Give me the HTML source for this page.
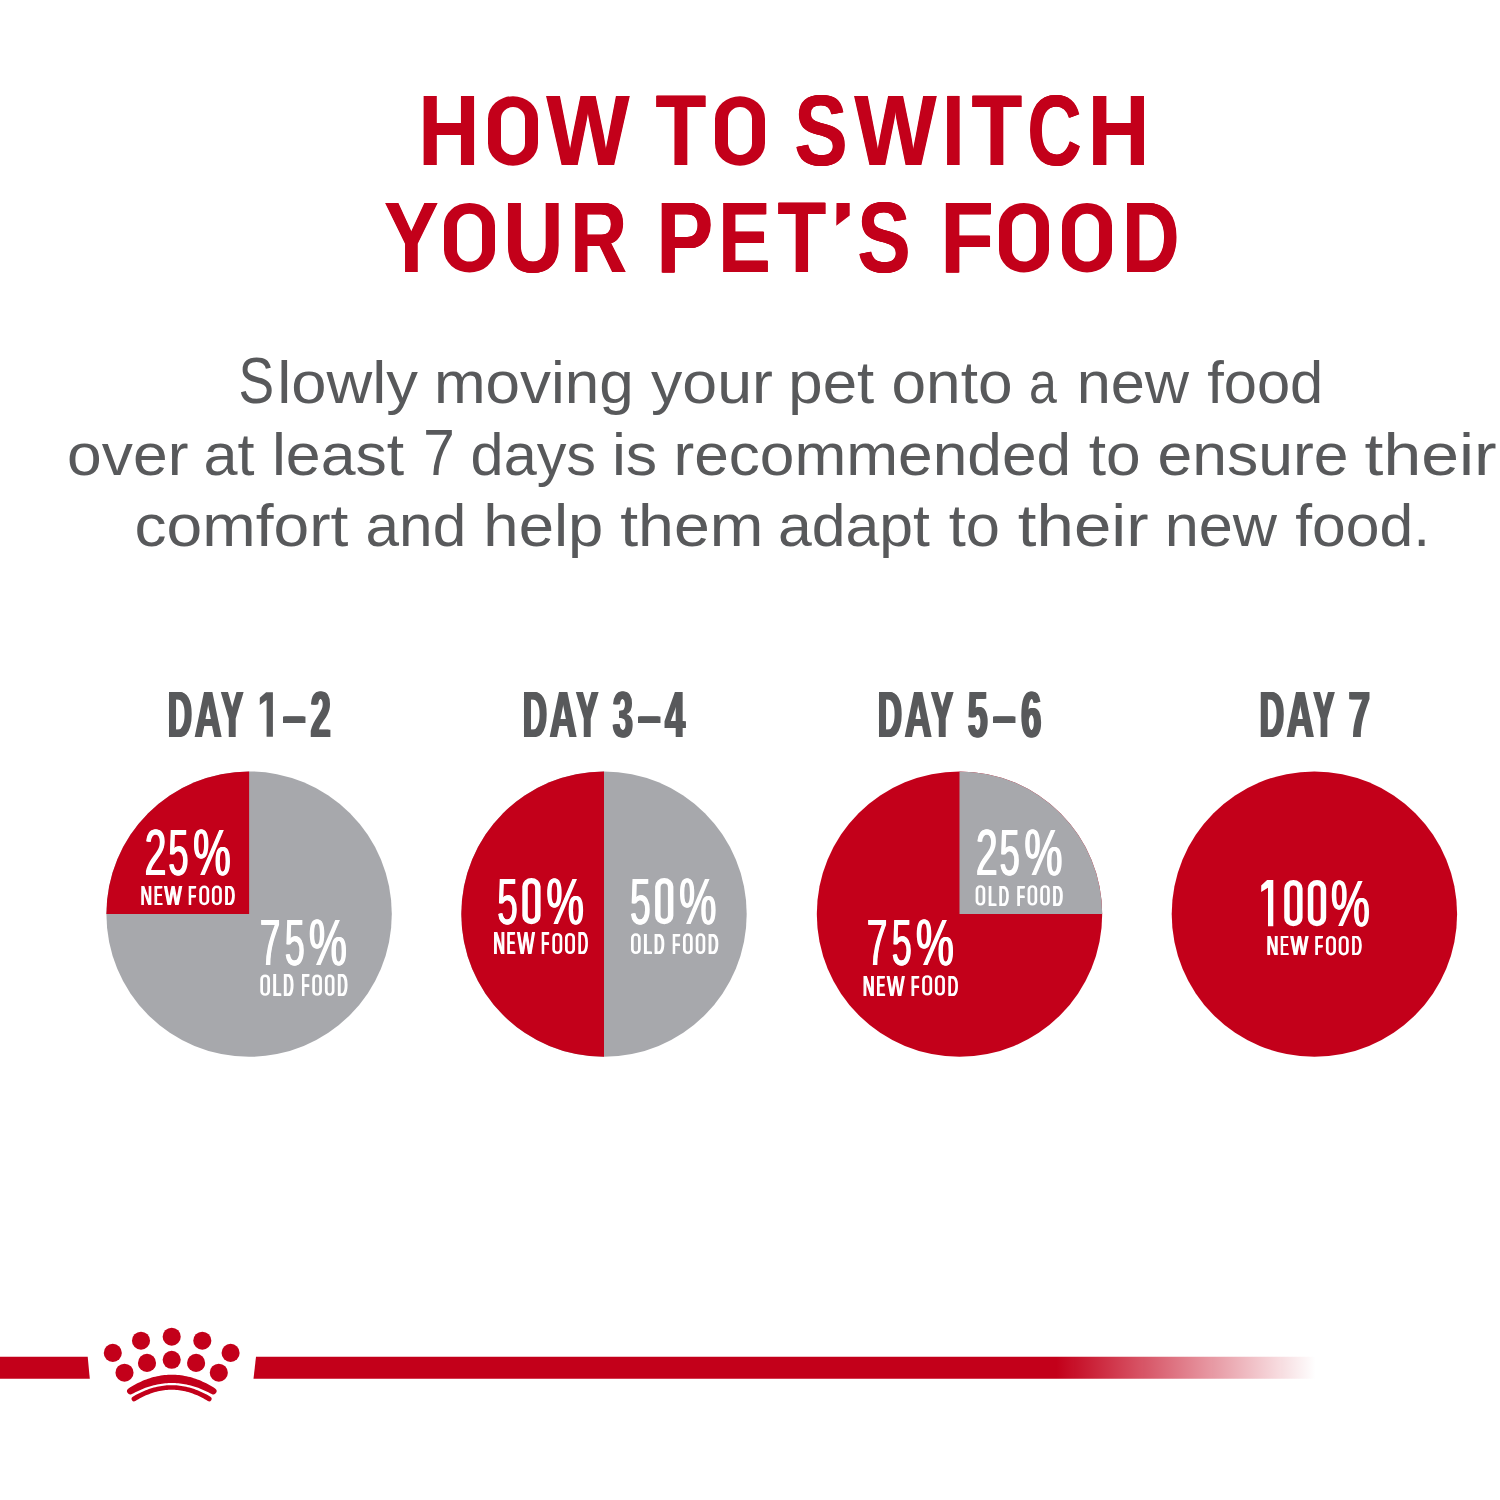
<!DOCTYPE html>
<html><head><meta charset="utf-8"><style>
html,body{margin:0;padding:0;background:#fff;width:1500px;height:1500px;overflow:hidden}
svg{display:block;font-family:"Liberation Sans",sans-serif}
</style></head><body>
<svg width="1500" height="1500" viewBox="0 0 1500 1500">
<defs><linearGradient id="fade" x1="0" x2="1500" y1="0" y2="0" gradientUnits="userSpaceOnUse">
<stop offset="0.7045" stop-color="#c3001a" stop-opacity="1"/>
<stop offset="0.877" stop-color="#c3001a" stop-opacity="0"/>
</linearGradient><filter id="ga" x="-2%" y="-10%" width="104%" height="120%"><feOffset dx="0" dy="0"/></filter></defs>
<rect width="1500" height="1500" fill="#fff"/>
<circle cx="249.1" cy="914.1" r="142.7" fill="#a7a8ac"/>
<path d="M249.1 914.1 L106.4 914.1 A142.7 142.7 0 0 1 249.1 771.4000000000001 Z" fill="#c3001a"/>
<circle cx="604.0" cy="914.1" r="142.7" fill="#a7a8ac"/>
<path d="M604.0 771.4000000000001 A142.7 142.7 0 0 0 604.0 1056.8 Z" fill="#c3001a"/>
<circle cx="959.5" cy="914.1" r="142.7" fill="#c3001a"/>
<path d="M959.5 914.1 L959.5 771.4000000000001 A142.7 142.7 0 0 1 1102.2 914.1 Z" fill="#a7a8ac"/>
<circle cx="1314.4" cy="914.1" r="142.7" fill="#c3001a"/>
<g fill="#58595b" filter="url(#ga)"><text x="238.59" y="402.8" font-size="64.5" fill="#58595b" textLength="35.65" lengthAdjust="spacingAndGlyphs">S</text>
<text x="277.28" y="402.8" font-size="60" fill="#58595b" textLength="140.72" lengthAdjust="spacingAndGlyphs">lowly</text>
<text x="433.97" y="402.8" font-size="60" fill="#58595b" textLength="199.82" lengthAdjust="spacingAndGlyphs">moving</text>
<text x="651" y="402.8" font-size="60" fill="#58595b" textLength="121.81" lengthAdjust="spacingAndGlyphs">your</text>
<text x="788.29" y="402.8" font-size="60" fill="#58595b" textLength="85.88" lengthAdjust="spacingAndGlyphs">pet</text>
<text x="891.51" y="402.8" font-size="60" fill="#58595b" textLength="121.05" lengthAdjust="spacingAndGlyphs">onto</text>
<text x="1029" y="402.8" font-size="60" fill="#58595b" textLength="27.81" lengthAdjust="spacingAndGlyphs">a</text>
<text x="1076.72" y="402.8" font-size="60" fill="#58595b" textLength="112.41" lengthAdjust="spacingAndGlyphs">new</text>
<text x="1207.2" y="402.8" font-size="60" fill="#58595b" textLength="116.04" lengthAdjust="spacingAndGlyphs">food</text>
<text x="67.11" y="474.8" font-size="60" fill="#58595b" textLength="121.31" lengthAdjust="spacingAndGlyphs">over</text>
<text x="203.55" y="474.8" font-size="60" fill="#58595b" textLength="51.02" lengthAdjust="spacingAndGlyphs">at</text>
<text x="271.93" y="474.8" font-size="60" fill="#58595b" textLength="132.25" lengthAdjust="spacingAndGlyphs">least</text>
<text x="423.17" y="474.8" font-size="64" fill="#58595b" textLength="31.43" lengthAdjust="spacingAndGlyphs">7</text>
<text x="470.62" y="474.8" font-size="60" fill="#58595b" textLength="125.45" lengthAdjust="spacingAndGlyphs">days</text>
<text x="611.93" y="474.8" font-size="60" fill="#58595b" textLength="45.27" lengthAdjust="spacingAndGlyphs">is</text>
<text x="673.46" y="474.8" font-size="60" fill="#58595b" textLength="397.65" lengthAdjust="spacingAndGlyphs">recommended</text>
<text x="1088.67" y="474.8" font-size="60" fill="#58595b" textLength="51.89" lengthAdjust="spacingAndGlyphs">to</text>
<text x="1157.5" y="474.8" font-size="60" fill="#58595b" textLength="191.07" lengthAdjust="spacingAndGlyphs">ensure</text>
<text x="1364.58" y="474.8" font-size="60" fill="#58595b" textLength="132" lengthAdjust="spacingAndGlyphs">their</text>
<text x="134.43" y="545.8" font-size="60" fill="#58595b" textLength="213.95" lengthAdjust="spacingAndGlyphs">comfort</text>
<text x="365.59" y="545.8" font-size="60" fill="#58595b" textLength="100.6" lengthAdjust="spacingAndGlyphs">and</text>
<text x="483.38" y="545.8" font-size="60" fill="#58595b" textLength="119.93" lengthAdjust="spacingAndGlyphs">help</text>
<text x="620.23" y="545.8" font-size="60" fill="#58595b" textLength="143.12" lengthAdjust="spacingAndGlyphs">them</text>
<text x="778.07" y="545.8" font-size="60" fill="#58595b" textLength="151.9" lengthAdjust="spacingAndGlyphs">adapt</text>
<text x="948.78" y="545.8" font-size="60" fill="#58595b" textLength="51.25" lengthAdjust="spacingAndGlyphs">to</text>
<text x="1017.89" y="545.8" font-size="60" fill="#58595b" textLength="130.68" lengthAdjust="spacingAndGlyphs">their</text>
<text x="1164.72" y="545.8" font-size="60" fill="#58595b" textLength="112.31" lengthAdjust="spacingAndGlyphs">new</text>
<text x="1295.19" y="545.8" font-size="60" fill="#58595b" textLength="134.83" lengthAdjust="spacingAndGlyphs">food.</text></g>
<g font-size="99.85" font-weight="bold" fill="#c3001a" filter="url(#ga)"><g id="r1"><text transform="translate(418.44 165.3) scale(0.8419 1)">H</text><text transform="translate(546.5 165.3) scale(0.8796 1)">W</text><text transform="translate(655.68 165.3) scale(0.8248 1)">T</text><text transform="translate(794.52 165.3) scale(0.7946 1)">S</text><text transform="translate(854.5 165.3) scale(0.8690 1)">W</text><text transform="translate(942.3 165.3) scale(0.8012 1)">I</text><text transform="translate(971.68 165.3) scale(0.8248 1)">T</text><text transform="translate(1027.51 165.3) scale(0.7492 1)">C</text><text transform="translate(1087.99 165.3) scale(0.8487 1)">H</text></g><use href="#r1" x="-0.5"/><use href="#r1" x="0.5"/></g>
<g font-size="99.85" font-weight="bold" fill="#c3001a" filter="url(#ga)"><g id="r2"><text transform="translate(384.28 272) scale(0.8137 1)">Y</text><text transform="translate(503.54 272) scale(0.8277 1)">U</text><text transform="translate(570.42 272) scale(0.7824 1)">R</text><text transform="translate(656.58 272) scale(0.8504 1)">P</text><text transform="translate(718.44 272) scale(0.7799 1)">E</text><text transform="translate(777.71 272) scale(0.7911 1)">T</text><text transform="translate(857.52 272) scale(0.7946 1)">S</text><text transform="translate(940.44 272) scale(0.8719 1)">F</text><text transform="translate(1122.36 272) scale(0.7915 1)">D</text></g><use href="#r2" x="-0.5"/><use href="#r2" x="0.5"/></g>
<g font-size="64.8" font-weight="bold" fill="#58595b" filter="url(#ga)"><g id="r3"><text transform="translate(167.93 736.8) scale(0.5152 1)">D</text><text transform="translate(194.76 736.8) scale(0.5742 1)">A</text><text transform="translate(221.41 736.8) scale(0.5015 1)">Y</text><text transform="translate(282.78 736.8) scale(0.6296 1)">–</text><text transform="translate(310.62 736.8) scale(0.5574 1)">2</text></g><use href="#r3" x="-1.1"/><use href="#r3" x="1.1"/></g>
<g font-size="64.8" font-weight="bold" fill="#58595b" filter="url(#ga)"><g id="r4"><text transform="translate(522.93 736.9) scale(0.5152 1)">D</text><text transform="translate(549.76 736.9) scale(0.5742 1)">A</text><text transform="translate(576.41 736.9) scale(0.5015 1)">Y</text><text transform="translate(612.77 736.9) scale(0.5617 1)">3</text><text transform="translate(637.78 736.9) scale(0.6296 1)">–</text><text transform="translate(665.06 736.9) scale(0.5516 1)">4</text></g><use href="#r4" x="-1.1"/><use href="#r4" x="1.1"/></g>
<g font-size="64.8" font-weight="bold" fill="#58595b" filter="url(#ga)"><g id="r5"><text transform="translate(877.93 736.9) scale(0.5152 1)">D</text><text transform="translate(904.76 736.9) scale(0.5742 1)">A</text><text transform="translate(931.41 736.9) scale(0.5015 1)">Y</text><text transform="translate(967.94 736.9) scale(0.5463 1)">5</text><text transform="translate(992.78 736.9) scale(0.6296 1)">–</text><text transform="translate(1021.03 736.9) scale(0.5600 1)">6</text></g><use href="#r5" x="-1.1"/><use href="#r5" x="1.1"/></g>
<g font-size="64.8" font-weight="bold" fill="#58595b" filter="url(#ga)"><g id="r6"><text transform="translate(1259.7 736.8) scale(0.5227 1)">D</text><text transform="translate(1286.86 736.8) scale(0.5742 1)">A</text><text transform="translate(1313.64 736.8) scale(0.4774 1)">Y</text><text transform="translate(1348.56 736.8) scale(0.5945 1)">7</text></g><use href="#r6" x="-1.1"/><use href="#r6" x="1.1"/></g>
<g font-size="64.23" font-weight="normal" fill="#ffffff" filter="url(#ga)"><g id="r7"><text transform="translate(144.64 874.96) scale(0.6093 1)">2</text><text transform="translate(168.35 874.96) scale(0.5638 1)">5</text><text transform="translate(193.11 874.96) scale(0.6608 1)">%</text></g><use href="#r7" x="-0.6"/><use href="#r7" x="0.6"/></g>
<g font-size="63.94" font-weight="normal" fill="#ffffff" filter="url(#ga)"><g id="r8"><text transform="translate(259.74 965.06) scale(0.5814 1)">7</text><text transform="translate(284.76 965.06) scale(0.5630 1)">5</text><text transform="translate(308.9 965.06) scale(0.6694 1)">%</text></g><use href="#r8" x="-0.6"/><use href="#r8" x="0.6"/></g>
<g font-size="65.07" font-weight="normal" fill="#ffffff" filter="url(#ga)"><g id="r9"><text transform="translate(497.23 923.65) scale(0.5662 1)">5</text><text transform="translate(546.32 923.65) scale(0.6503 1)">%</text></g><use href="#r9" x="-0.6"/><use href="#r9" x="0.6"/></g>
<g font-size="65.07" font-weight="normal" fill="#ffffff" filter="url(#ga)"><g id="r10"><text transform="translate(630.03 923.65) scale(0.5662 1)">5</text><text transform="translate(679.13 923.65) scale(0.6447 1)">%</text></g><use href="#r10" x="-0.6"/><use href="#r10" x="0.6"/></g>
<g font-size="64.23" font-weight="normal" fill="#ffffff" filter="url(#ga)"><g id="r11"><text transform="translate(975.84 874.96) scale(0.6093 1)">2</text><text transform="translate(999.55 874.96) scale(0.5638 1)">5</text><text transform="translate(1024.3 874.96) scale(0.6684 1)">%</text></g><use href="#r11" x="-0.6"/><use href="#r11" x="0.6"/></g>
<g font-size="64.23" font-weight="normal" fill="#ffffff" filter="url(#ga)"><g id="r12"><text transform="translate(866.74 965.36) scale(0.5788 1)">7</text><text transform="translate(891.76 965.36) scale(0.5605 1)">5</text><text transform="translate(915.9 965.36) scale(0.6665 1)">%</text></g><use href="#r12" x="-0.6"/><use href="#r12" x="0.6"/></g>
<g font-size="65.21" font-weight="normal" fill="#ffffff" filter="url(#ga)"><g id="r13"><text transform="translate(1330.86 925.65) scale(0.6732 1)">%</text></g><use href="#r13" x="-0.6"/><use href="#r13" x="0.6"/></g>
<g font-size="28.49" font-weight="normal" fill="#ffffff" filter="url(#ga)"><g id="r14"><text transform="translate(140.65 905.2) scale(0.5502 1)">N</text><text transform="translate(154.18 905.2) scale(0.4229 1)">E</text><text transform="translate(164.5 905.2) scale(0.6360 1)">W</text><text transform="translate(188.4 905.2) scale(0.4374 1)">F</text><text transform="translate(224.73 905.2) scale(0.4872 1)">D</text></g><use href="#r14" x="-0.7"/><use href="#r14" x="0.7"/></g>
<g font-size="30.96" font-weight="normal" fill="#ffffff" filter="url(#ga)"><g id="r15"><text transform="translate(272.8 995.8) scale(0.4784 1)">L</text><text transform="translate(283.57 995.8) scale(0.4446 1)">D</text><text transform="translate(301.65 995.8) scale(0.4040 1)">F</text><text transform="translate(337.51 995.8) scale(0.4446 1)">D</text></g><use href="#r15" x="-0.7"/><use href="#r15" x="0.7"/></g>
<g font-size="30.52" font-weight="normal" fill="#ffffff" filter="url(#ga)"><g id="r16"><text transform="translate(493.44 954) scale(0.5161 1)">N</text><text transform="translate(507.03 954) scale(0.3967 1)">E</text><text transform="translate(517.4 954) scale(0.5963 1)">W</text><text transform="translate(541.4 954) scale(0.4104 1)">F</text><text transform="translate(577.88 954) scale(0.4570 1)">D</text></g><use href="#r16" x="-0.7"/><use href="#r16" x="0.7"/></g>
<g font-size="30.09" font-weight="normal" fill="#ffffff" filter="url(#ga)"><g id="r17"><text transform="translate(643.51 954) scale(0.4929 1)">L</text><text transform="translate(654.3 954) scale(0.4581 1)">D</text><text transform="translate(672.4 954) scale(0.4163 1)">F</text><text transform="translate(708.3 954) scale(0.4581 1)">D</text></g><use href="#r17" x="-0.7"/><use href="#r17" x="0.7"/></g>
<g font-size="29.65" font-weight="normal" fill="#ffffff" filter="url(#ga)"><g id="r18"><text transform="translate(988.1 905.6) scale(0.4995 1)">L</text><text transform="translate(998.87 905.6) scale(0.4642 1)">D</text><text transform="translate(1016.95 905.6) scale(0.4218 1)">F</text><text transform="translate(1052.81 905.6) scale(0.4642 1)">D</text></g><use href="#r18" x="-0.7"/><use href="#r18" x="0.7"/></g>
<g font-size="29.65" font-weight="normal" fill="#ffffff" filter="url(#ga)"><g id="r19"><text transform="translate(863.03 995.6) scale(0.5339 1)">N</text><text transform="translate(876.68 995.6) scale(0.4105 1)">E</text><text transform="translate(887.1 995.6) scale(0.6167 1)">W</text><text transform="translate(911.2 995.6) scale(0.4246 1)">F</text><text transform="translate(947.84 995.6) scale(0.4728 1)">D</text></g><use href="#r19" x="-0.7"/><use href="#r19" x="0.7"/></g>
<g font-size="28.34" font-weight="normal" fill="#ffffff" filter="url(#ga)"><g id="r20"><text transform="translate(1266.73 955.4) scale(0.5592 1)">N</text><text transform="translate(1280.4 955.4) scale(0.4300 1)">E</text><text transform="translate(1290.82 955.4) scale(0.6459 1)">W</text><text transform="translate(1314.95 955.4) scale(0.4448 1)">F</text><text transform="translate(1351.63 955.4) scale(0.4952 1)">D</text></g><use href="#r20" x="-0.7"/><use href="#r20" x="0.7"/></g>
<path fill="#c3001a" fill-rule="evenodd" d="M513.00 96.20 L513.00 96.20 A25.00 22.50 0 0 1 538.00 118.70 L538.00 143.30 A25.00 22.50 0 0 1 513.00 165.80 L513.00 165.80 A25.00 22.50 0 0 1 488.00 143.30 L488.00 118.70 A25.00 22.50 0 0 1 513.00 96.20 Z M513.00 107.10 L513.00 107.10 A12.00 11.50 0 0 1 525.00 118.60 L525.00 143.40 A12.00 11.50 0 0 1 513.00 154.90 L513.00 154.90 A12.00 11.50 0 0 1 501.00 143.40 L501.00 118.60 A12.00 11.50 0 0 1 513.00 107.10 Z M740.00 96.20 L740.00 96.20 A25.00 22.50 0 0 1 765.00 118.70 L765.00 143.30 A25.00 22.50 0 0 1 740.00 165.80 L740.00 165.80 A25.00 22.50 0 0 1 715.00 143.30 L715.00 118.70 A25.00 22.50 0 0 1 740.00 96.20 Z M740.00 107.10 L740.00 107.10 A12.00 11.50 0 0 1 752.00 118.60 L752.00 143.40 A12.00 11.50 0 0 1 740.00 154.90 L740.00 154.90 A12.00 11.50 0 0 1 728.00 143.40 L728.00 118.60 A12.00 11.50 0 0 1 740.00 107.10 Z M469.50 202.90 L469.50 202.90 A25.50 22.50 0 0 1 495.00 225.40 L495.00 250.00 A25.50 22.50 0 0 1 469.50 272.50 L469.50 272.50 A25.50 22.50 0 0 1 444.00 250.00 L444.00 225.40 A25.50 22.50 0 0 1 469.50 202.90 Z M469.50 213.80 L469.50 213.80 A12.50 11.50 0 0 1 482.00 225.30 L482.00 250.10 A12.50 11.50 0 0 1 469.50 261.60 L469.50 261.60 A12.50 11.50 0 0 1 457.00 250.10 L457.00 225.30 A12.50 11.50 0 0 1 469.50 213.80 Z M1024.00 202.90 L1024.00 202.90 A25.00 22.50 0 0 1 1049.00 225.40 L1049.00 250.00 A25.00 22.50 0 0 1 1024.00 272.50 L1024.00 272.50 A25.00 22.50 0 0 1 999.00 250.00 L999.00 225.40 A25.00 22.50 0 0 1 1024.00 202.90 Z M1024.00 213.80 L1024.00 213.80 A12.00 11.50 0 0 1 1036.00 225.30 L1036.00 250.10 A12.00 11.50 0 0 1 1024.00 261.60 L1024.00 261.60 A12.00 11.50 0 0 1 1012.00 250.10 L1012.00 225.30 A12.00 11.50 0 0 1 1024.00 213.80 Z M1087.00 202.90 L1087.00 202.90 A25.00 22.50 0 0 1 1112.00 225.40 L1112.00 250.00 A25.00 22.50 0 0 1 1087.00 272.50 L1087.00 272.50 A25.00 22.50 0 0 1 1062.00 250.00 L1062.00 225.40 A25.00 22.50 0 0 1 1087.00 202.90 Z M1087.00 213.80 L1087.00 213.80 A12.00 11.50 0 0 1 1099.00 225.30 L1099.00 250.10 A12.00 11.50 0 0 1 1087.00 261.60 L1087.00 261.60 A12.00 11.50 0 0 1 1075.00 250.10 L1075.00 225.30 A12.00 11.50 0 0 1 1087.00 213.80 Z M836.50 203.10 L849.70 203.10 L849.70 215.50 L836.30 225.70 Z"/>
<path fill="#ffffff" fill-rule="evenodd" d="M531.45 878.10 L531.45 878.10 A9.15 8.50 0 0 1 540.60 886.60 L540.60 915.80 A9.15 8.50 0 0 1 531.45 924.30 L531.45 924.30 A9.15 8.50 0 0 1 522.30 915.80 L522.30 886.60 A9.15 8.50 0 0 1 531.45 878.10 Z M531.45 883.60 L531.45 883.60 A3.65 4.00 0 0 1 535.10 887.60 L535.10 914.80 A3.65 4.00 0 0 1 531.45 918.80 L531.45 918.80 A3.65 4.00 0 0 1 527.80 914.80 L527.80 887.60 A3.65 4.00 0 0 1 531.45 883.60 Z M664.25 878.10 L664.25 878.10 A9.15 8.50 0 0 1 673.40 886.60 L673.40 915.80 A9.15 8.50 0 0 1 664.25 924.30 L664.25 924.30 A9.15 8.50 0 0 1 655.10 915.80 L655.10 886.60 A9.15 8.50 0 0 1 664.25 878.10 Z M664.25 883.60 L664.25 883.60 A3.65 4.00 0 0 1 667.90 887.60 L667.90 914.80 A3.65 4.00 0 0 1 664.25 918.80 L664.25 918.80 A3.65 4.00 0 0 1 660.60 914.80 L660.60 887.60 A3.65 4.00 0 0 1 664.25 883.60 Z M1293.40 880.00 L1293.40 880.00 A9.20 8.50 0 0 1 1302.60 888.50 L1302.60 917.80 A9.20 8.50 0 0 1 1293.40 926.30 L1293.40 926.30 A9.20 8.50 0 0 1 1284.20 917.80 L1284.20 888.50 A9.20 8.50 0 0 1 1293.40 880.00 Z M1293.40 885.50 L1293.40 885.50 A3.70 4.00 0 0 1 1297.10 889.50 L1297.10 916.80 A3.70 4.00 0 0 1 1293.40 920.80 L1293.40 920.80 A3.70 4.00 0 0 1 1289.70 916.80 L1289.70 889.50 A3.70 4.00 0 0 1 1293.40 885.50 Z M1317.00 880.00 L1317.00 880.00 A9.20 8.50 0 0 1 1326.20 888.50 L1326.20 917.80 A9.20 8.50 0 0 1 1317.00 926.30 L1317.00 926.30 A9.20 8.50 0 0 1 1307.80 917.80 L1307.80 888.50 A9.20 8.50 0 0 1 1317.00 880.00 Z M1317.00 885.50 L1317.00 885.50 A3.70 4.00 0 0 1 1320.70 889.50 L1320.70 916.80 A3.70 4.00 0 0 1 1317.00 920.80 L1317.00 920.80 A3.70 4.00 0 0 1 1313.30 916.80 L1313.30 889.50 A3.70 4.00 0 0 1 1317.00 885.50 Z M204.23 885.60 L204.23 885.60 A4.98 4.60 0 0 1 209.21 890.20 L209.21 900.60 A4.98 4.60 0 0 1 204.23 905.20 L204.23 905.20 A4.98 4.60 0 0 1 199.25 900.60 L199.25 890.20 A4.98 4.60 0 0 1 204.23 885.60 Z M204.23 888.00 L204.23 888.00 A2.28 2.40 0 0 1 206.51 890.40 L206.51 900.40 A2.28 2.40 0 0 1 204.23 902.80 L204.23 902.80 A2.28 2.40 0 0 1 201.95 900.40 L201.95 890.40 A2.28 2.40 0 0 1 204.23 888.00 Z M216.88 885.60 L216.88 885.60 A4.98 4.60 0 0 1 221.86 890.20 L221.86 900.60 A4.98 4.60 0 0 1 216.88 905.20 L216.88 905.20 A4.98 4.60 0 0 1 211.90 900.60 L211.90 890.20 A4.98 4.60 0 0 1 216.88 885.60 Z M216.88 888.00 L216.88 888.00 A2.28 2.40 0 0 1 219.16 890.40 L219.16 900.40 A2.28 2.40 0 0 1 216.88 902.80 L216.88 902.80 A2.28 2.40 0 0 1 214.60 900.40 L214.60 890.40 A2.28 2.40 0 0 1 216.88 888.00 Z M265.14 974.50 L265.14 974.50 A4.84 4.60 0 0 1 269.99 979.10 L269.99 991.20 A4.84 4.60 0 0 1 265.14 995.80 L265.14 995.80 A4.84 4.60 0 0 1 260.30 991.20 L260.30 979.10 A4.84 4.60 0 0 1 265.14 974.50 Z M265.14 976.90 L265.14 976.90 A2.14 2.40 0 0 1 267.29 979.30 L267.29 991.00 A2.14 2.40 0 0 1 265.14 993.40 L265.14 993.40 A2.14 2.40 0 0 1 263.00 991.00 L263.00 979.30 A2.14 2.40 0 0 1 265.14 976.90 Z M317.08 974.50 L317.08 974.50 A4.84 4.60 0 0 1 321.93 979.10 L321.93 991.20 A4.84 4.60 0 0 1 317.08 995.80 L317.08 995.80 A4.84 4.60 0 0 1 312.24 991.20 L312.24 979.10 A4.84 4.60 0 0 1 317.08 974.50 Z M317.08 976.90 L317.08 976.90 A2.14 2.40 0 0 1 319.23 979.30 L319.23 991.00 A2.14 2.40 0 0 1 317.08 993.40 L317.08 993.40 A2.14 2.40 0 0 1 314.94 991.00 L314.94 979.30 A2.14 2.40 0 0 1 317.08 976.90 Z M329.72 974.50 L329.72 974.50 A4.79 4.60 0 0 1 334.51 979.10 L334.51 991.20 A4.79 4.60 0 0 1 329.72 995.80 L329.72 995.80 A4.79 4.60 0 0 1 324.93 991.20 L324.93 979.10 A4.79 4.60 0 0 1 329.72 974.50 Z M329.72 976.90 L329.72 976.90 A2.09 2.40 0 0 1 331.81 979.30 L331.81 991.00 A2.09 2.40 0 0 1 329.72 993.40 L329.72 993.40 A2.09 2.40 0 0 1 327.63 991.00 L327.63 979.30 A2.09 2.40 0 0 1 329.72 976.90 Z M557.30 933.00 L557.30 933.00 A5.00 4.60 0 0 1 562.30 937.60 L562.30 949.40 A5.00 4.60 0 0 1 557.30 954.00 L557.30 954.00 A5.00 4.60 0 0 1 552.30 949.40 L552.30 937.60 A5.00 4.60 0 0 1 557.30 933.00 Z M557.30 935.40 L557.30 935.40 A2.30 2.40 0 0 1 559.60 937.80 L559.60 949.20 A2.30 2.40 0 0 1 557.30 951.60 L557.30 951.60 A2.30 2.40 0 0 1 555.00 949.20 L555.00 937.80 A2.30 2.40 0 0 1 557.30 935.40 Z M570.00 933.00 L570.00 933.00 A5.00 4.60 0 0 1 575.00 937.60 L575.00 949.40 A5.00 4.60 0 0 1 570.00 954.00 L570.00 954.00 A5.00 4.60 0 0 1 565.00 949.40 L565.00 937.60 A5.00 4.60 0 0 1 570.00 933.00 Z M570.00 935.40 L570.00 935.40 A2.30 2.40 0 0 1 572.30 937.80 L572.30 949.20 A2.30 2.40 0 0 1 570.00 951.60 L570.00 951.60 A2.30 2.40 0 0 1 567.70 949.20 L567.70 937.80 A2.30 2.40 0 0 1 570.00 935.40 Z M635.85 933.30 L635.85 933.30 A4.85 4.60 0 0 1 640.70 937.90 L640.70 949.40 A4.85 4.60 0 0 1 635.85 954.00 L635.85 954.00 A4.85 4.60 0 0 1 631.00 949.40 L631.00 937.90 A4.85 4.60 0 0 1 635.85 933.30 Z M635.85 935.70 L635.85 935.70 A2.15 2.40 0 0 1 638.00 938.10 L638.00 949.20 A2.15 2.40 0 0 1 635.85 951.60 L635.85 951.60 A2.15 2.40 0 0 1 633.70 949.20 L633.70 938.10 A2.15 2.40 0 0 1 635.85 935.70 Z M687.85 933.30 L687.85 933.30 A4.85 4.60 0 0 1 692.70 937.90 L692.70 949.40 A4.85 4.60 0 0 1 687.85 954.00 L687.85 954.00 A4.85 4.60 0 0 1 683.00 949.40 L683.00 937.90 A4.85 4.60 0 0 1 687.85 933.30 Z M687.85 935.70 L687.85 935.70 A2.15 2.40 0 0 1 690.00 938.10 L690.00 949.20 A2.15 2.40 0 0 1 687.85 951.60 L687.85 951.60 A2.15 2.40 0 0 1 685.70 949.20 L685.70 938.10 A2.15 2.40 0 0 1 687.85 935.70 Z M700.50 933.30 L700.50 933.30 A4.80 4.60 0 0 1 705.30 937.90 L705.30 949.40 A4.80 4.60 0 0 1 700.50 954.00 L700.50 954.00 A4.80 4.60 0 0 1 695.70 949.40 L695.70 937.90 A4.80 4.60 0 0 1 700.50 933.30 Z M700.50 935.70 L700.50 935.70 A2.10 2.40 0 0 1 702.60 938.10 L702.60 949.20 A2.10 2.40 0 0 1 700.50 951.60 L700.50 951.60 A2.10 2.40 0 0 1 698.40 949.20 L698.40 938.10 A2.10 2.40 0 0 1 700.50 935.70 Z M980.44 885.20 L980.44 885.20 A4.84 4.60 0 0 1 985.29 889.80 L985.29 901.00 A4.84 4.60 0 0 1 980.44 905.60 L980.44 905.60 A4.84 4.60 0 0 1 975.60 901.00 L975.60 889.80 A4.84 4.60 0 0 1 980.44 885.20 Z M980.44 887.60 L980.44 887.60 A2.14 2.40 0 0 1 982.59 890.00 L982.59 900.80 A2.14 2.40 0 0 1 980.44 903.20 L980.44 903.20 A2.14 2.40 0 0 1 978.30 900.80 L978.30 890.00 A2.14 2.40 0 0 1 980.44 887.60 Z M1032.38 885.20 L1032.38 885.20 A4.84 4.60 0 0 1 1037.23 889.80 L1037.23 901.00 A4.84 4.60 0 0 1 1032.38 905.60 L1032.38 905.60 A4.84 4.60 0 0 1 1027.54 901.00 L1027.54 889.80 A4.84 4.60 0 0 1 1032.38 885.20 Z M1032.38 887.60 L1032.38 887.60 A2.14 2.40 0 0 1 1034.53 890.00 L1034.53 900.80 A2.14 2.40 0 0 1 1032.38 903.20 L1032.38 903.20 A2.14 2.40 0 0 1 1030.24 900.80 L1030.24 890.00 A2.14 2.40 0 0 1 1032.38 887.60 Z M1045.02 885.20 L1045.02 885.20 A4.79 4.60 0 0 1 1049.81 889.80 L1049.81 901.00 A4.79 4.60 0 0 1 1045.02 905.60 L1045.02 905.60 A4.79 4.60 0 0 1 1040.23 901.00 L1040.23 889.80 A4.79 4.60 0 0 1 1045.02 885.20 Z M1045.02 887.60 L1045.02 887.60 A2.09 2.40 0 0 1 1047.11 890.00 L1047.11 900.80 A2.09 2.40 0 0 1 1045.02 903.20 L1045.02 903.20 A2.09 2.40 0 0 1 1042.93 900.80 L1042.93 890.00 A2.09 2.40 0 0 1 1045.02 887.60 Z M927.17 975.20 L927.17 975.20 A5.02 4.60 0 0 1 932.19 979.80 L932.19 991.00 A5.02 4.60 0 0 1 927.17 995.60 L927.17 995.60 A5.02 4.60 0 0 1 922.15 991.00 L922.15 979.80 A5.02 4.60 0 0 1 927.17 975.20 Z M927.17 977.60 L927.17 977.60 A2.32 2.40 0 0 1 929.49 980.00 L929.49 990.80 A2.32 2.40 0 0 1 927.17 993.20 L927.17 993.20 A2.32 2.40 0 0 1 924.85 990.80 L924.85 980.00 A2.32 2.40 0 0 1 927.17 977.60 Z M939.92 975.20 L939.92 975.20 A5.02 4.60 0 0 1 944.94 979.80 L944.94 991.00 A5.02 4.60 0 0 1 939.92 995.60 L939.92 995.60 A5.02 4.60 0 0 1 934.90 991.00 L934.90 979.80 A5.02 4.60 0 0 1 939.92 975.20 Z M939.92 977.60 L939.92 977.60 A2.32 2.40 0 0 1 942.24 980.00 L942.24 990.80 A2.32 2.40 0 0 1 939.92 993.20 L939.92 993.20 A2.32 2.40 0 0 1 937.60 990.80 L937.60 980.00 A2.32 2.40 0 0 1 939.92 977.60 Z M1330.94 935.90 L1330.94 935.90 A5.03 4.60 0 0 1 1335.96 940.50 L1335.96 950.80 A5.03 4.60 0 0 1 1330.94 955.40 L1330.94 955.40 A5.03 4.60 0 0 1 1325.91 950.80 L1325.91 940.50 A5.03 4.60 0 0 1 1330.94 935.90 Z M1330.94 938.30 L1330.94 938.30 A2.33 2.40 0 0 1 1333.26 940.70 L1333.26 950.60 A2.33 2.40 0 0 1 1330.94 953.00 L1330.94 953.00 A2.33 2.40 0 0 1 1328.61 950.60 L1328.61 940.70 A2.33 2.40 0 0 1 1330.94 938.30 Z M1343.70 935.90 L1343.70 935.90 A5.03 4.60 0 0 1 1348.73 940.50 L1348.73 950.80 A5.03 4.60 0 0 1 1343.70 955.40 L1343.70 955.40 A5.03 4.60 0 0 1 1338.68 950.80 L1338.68 940.50 A5.03 4.60 0 0 1 1343.70 935.90 Z M1343.70 938.30 L1343.70 938.30 A2.33 2.40 0 0 1 1346.03 940.70 L1346.03 950.60 A2.33 2.40 0 0 1 1343.70 953.00 L1343.70 953.00 A2.33 2.40 0 0 1 1341.38 950.60 L1341.38 940.70 A2.33 2.40 0 0 1 1343.70 938.30 Z"/>
<path fill="#58595b" d="M266.1 692.3 L272.9 692.3 L272.9 736.8 L266.6 736.8 L266.6 700 L259.8 704.9 L259.8 697.8 Z"/>
<path fill="#ffffff" d="M1267.1 880.1 L1273.3 880.1 L1273.3 926.2 L1268 926.2 L1268 887.8 L1261.2 891.9 L1261.2 885.6 Z"/>
<g fill="#c3001a">
<path d="M0 1356.8 L87.7 1356.8 L89.8 1378.8 L0 1378.8 Z"/>
<path d="M256 1356.8 L1500 1356.8 L1500 1378.8 L253.5 1378.8 Z" fill="url(#fade)"/>
<circle cx="112.8" cy="1352.9" r="9.05"/>
<circle cx="141.0" cy="1340.7" r="9.05"/>
<circle cx="171.7" cy="1336.7" r="9.05"/>
<circle cx="202.3" cy="1340.7" r="9.05"/>
<circle cx="230.6" cy="1352.9" r="9.05"/>
<circle cx="124.5" cy="1372.7" r="9.05"/>
<circle cx="147.0" cy="1362.9" r="9.05"/>
<circle cx="171.7" cy="1359.8" r="9.05"/>
<circle cx="196.1" cy="1362.9" r="9.05"/>
<circle cx="218.8" cy="1372.7" r="9.05"/>
<path d="M128.51 1388.42 L130.26 1387.31 L132.02 1386.25 L133.78 1385.24 L135.55 1384.27 L137.32 1383.35 L139.10 1382.47 L140.88 1381.64 L142.67 1380.86 L144.47 1380.12 L146.27 1379.42 L148.07 1378.78 L149.88 1378.18 L151.69 1377.62 L153.50 1377.12 L155.32 1376.66 L157.14 1376.25 L158.97 1375.89 L160.80 1375.57 L162.63 1375.31 L164.46 1375.09 L166.29 1374.92 L168.13 1374.80 L169.96 1374.72 L171.80 1374.70 L173.64 1374.72 L175.47 1374.80 L177.31 1374.92 L179.14 1375.09 L180.97 1375.31 L182.80 1375.57 L184.63 1375.89 L186.46 1376.25 L188.28 1376.66 L190.10 1377.12 L191.91 1377.62 L193.72 1378.18 L195.53 1378.78 L197.33 1379.42 L199.13 1380.12 L200.93 1380.86 L202.72 1381.64 L204.50 1382.47 L206.28 1383.35 L208.05 1384.27 L209.82 1385.24 L211.58 1386.25 L213.34 1387.31 L215.09 1388.42 A3.30 3.30 0 0 1 211.71 1394.08 L210.00 1393.16 L208.29 1392.28 L206.58 1391.45 L204.88 1390.65 L203.19 1389.89 L201.50 1389.18 L199.82 1388.50 L198.14 1387.87 L196.47 1387.27 L194.80 1386.72 L193.13 1386.20 L191.48 1385.72 L189.82 1385.29 L188.17 1384.89 L186.52 1384.53 L184.88 1384.21 L183.23 1383.92 L181.60 1383.68 L179.96 1383.47 L178.33 1383.30 L176.69 1383.17 L175.06 1383.08 L173.43 1383.02 L171.80 1383.00 L170.17 1383.02 L168.54 1383.08 L166.91 1383.17 L165.27 1383.30 L163.64 1383.47 L162.00 1383.68 L160.37 1383.92 L158.72 1384.21 L157.08 1384.53 L155.43 1384.89 L153.78 1385.29 L152.12 1385.72 L150.47 1386.20 L148.80 1386.72 L147.13 1387.27 L145.46 1387.87 L143.78 1388.50 L142.10 1389.18 L140.41 1389.89 L138.72 1390.65 L137.02 1391.45 L135.31 1392.28 L133.60 1393.16 L131.89 1394.08 A3.30 3.30 0 0 1 128.51 1388.42 Z"/>
<path d="M132.80 1396.71 L134.41 1395.77 L136.02 1394.87 L137.64 1394.01 L139.25 1393.19 L140.86 1392.41 L142.47 1391.67 L144.09 1390.97 L145.70 1390.30 L147.32 1389.68 L148.93 1389.10 L150.55 1388.55 L152.17 1388.05 L153.78 1387.59 L155.40 1387.17 L157.02 1386.78 L158.64 1386.44 L160.26 1386.14 L161.88 1385.88 L163.50 1385.65 L165.12 1385.47 L166.74 1385.33 L168.36 1385.23 L169.98 1385.17 L171.60 1385.15 L173.22 1385.17 L174.84 1385.23 L176.46 1385.33 L178.08 1385.47 L179.70 1385.65 L181.32 1385.88 L182.94 1386.14 L184.56 1386.44 L186.18 1386.78 L187.80 1387.17 L189.42 1387.59 L191.03 1388.05 L192.65 1388.55 L194.27 1389.10 L195.88 1389.68 L197.50 1390.30 L199.11 1390.97 L200.73 1391.67 L202.34 1392.41 L203.95 1393.19 L205.56 1394.01 L207.18 1394.87 L208.79 1395.77 L210.40 1396.71 A2.50 2.50 0 0 1 207.80 1400.99 L206.29 1400.07 L204.77 1399.19 L203.26 1398.34 L201.75 1397.54 L200.24 1396.78 L198.72 1396.06 L197.21 1395.37 L195.70 1394.73 L194.19 1394.13 L192.68 1393.56 L191.17 1393.04 L189.67 1392.55 L188.16 1392.10 L186.65 1391.69 L185.14 1391.32 L183.64 1390.99 L182.13 1390.70 L180.63 1390.45 L179.12 1390.24 L177.62 1390.06 L176.11 1389.92 L174.61 1389.83 L173.10 1389.77 L171.60 1389.75 L170.10 1389.77 L168.59 1389.83 L167.09 1389.92 L165.58 1390.06 L164.08 1390.24 L162.57 1390.45 L161.07 1390.70 L159.56 1390.99 L158.06 1391.32 L156.55 1391.69 L155.04 1392.10 L153.53 1392.55 L152.03 1393.04 L150.52 1393.56 L149.01 1394.13 L147.50 1394.73 L145.99 1395.37 L144.48 1396.06 L142.96 1396.78 L141.45 1397.54 L139.94 1398.34 L138.43 1399.19 L136.91 1400.07 L135.40 1400.99 A2.50 2.50 0 0 1 132.80 1396.71 Z"/>
</g>
</svg>
</body></html>
